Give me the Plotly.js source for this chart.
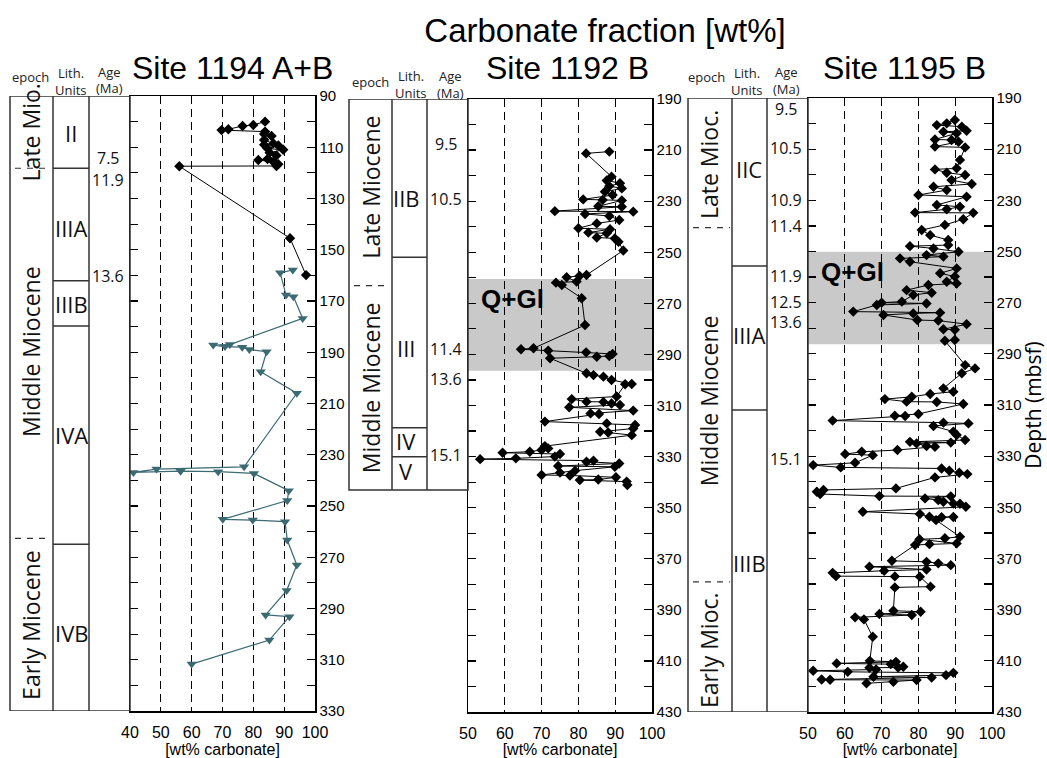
<!DOCTYPE html>
<html><head><meta charset="utf-8">
<script src="https://cdn.plot.ly/plotly-3.0.1.min.js"></script>
<style>html,body{margin:0;padding:0;background:#fff}#chart{width:1047px;height:758px}</style>
</head><body><div id="chart"></div>
<script>
// ---------------- DATA ----------------
// Site 1194 A+B, upper (black diamonds)
const dep1194a = [100.0,101.3,101.7,103.0,103.3,103.9,104.8,105.6,107.2,108.5,109.0,109.3,110.5,111.0,112.1,113.2,114.6,115.0,115.7,116.6,117.3,117.4,145.5,159.9];
const val1194a = [83.8,80.0,76.5,71.9,69.7,83.8,83.5,85.9,83.5,86.5,83.5,88.1,84.6,89.7,85.3,87.5,84.6,81.6,86.5,88.1,87.5,56.0,91.9,97.1];
// Site 1194 A+B, lower (teal triangles)
const dep1194b = [157.9,159.0,167.7,168.3,176.8,187.0,187.2,187.8,188.0,188.9,189.8,197.6,206.0,234.7,235.6,236.9,236.4,236.6,237.3,244.0,247.9,255.2,255.5,256.1,263.3,273.0,283.0,292.5,293.2,302.3,311.7];
const val1194b = [92.8,88.7,90.6,93.0,96.0,72.4,67.0,70.8,76.4,78.7,84.3,82.4,94.1,77.0,48.6,41.1,56.4,68.6,80.2,91.5,91.0,70.1,79.8,90.3,91.0,94.1,90.8,84.0,91.7,85.2,60.0];
// Site 1192 B
const dep1192 = [210.6,211.3,220.4,221.9,223.0,224.1,225.0,226.3,227.6,229.3,
 229.5,229.7,232.0,232.2,233.9,234.1,235.0,235.8,237.4,238.7,
 240.6,241.0,242.3,242.6,244.2,244.6,245.9,249.3,258.9,259.3,
 259.8,261.5,261.9,262.8,268.0,278.5,287.6,288.0,288.5,289.2,
 289.8,290.6,290.9,291.5,297.4,298.1,298.7,300.0,301.6,301.7,
 306.5,307.5,308.5,308.6,309.2,309.8,310.7,312.0,313.1,313.3,
 316.3,317.0,317.6,319.0,320.3,320.6,321.6,325.9,326.8,327.4,
 328.1,328.5,329.0,330.0,330.7,331.0,331.6,332.0,332.7,333.7,
 334.0,335.5,336.3,337.2,337.4,338.1,339.0,339.2,339.8,341.1];
const val1192 = [88.4,82.1,89.0,87.7,91.3,88.4,91.8,87.2,89.3,81.3,
 86.6,91.8,85.4,91.8,73.6,94.9,81.8,88.4,91.1,85.0,
 80.0,88.6,82.7,87.7,85.0,89.9,90.9,92.2,82.2,80.3,
 76.8,79.5,73.9,75.5,80.9,81.8,67.8,64.4,71.8,82.1,
 89.3,88.4,85.0,72.3,82.2,84.1,86.8,89.0,94.5,92.7,
 90.4,78.2,82.2,86.8,89.0,91.3,77.5,94.9,83.3,85.6,
 70.9,87.7,95.4,94.9,85.9,88.1,94.5,70.9,71.8,70.0,
 66.8,59.4,75.0,73.6,63.0,53.3,84.1,82.2,91.1,74.5,
 89.9,79.1,75.0,70.0,77.7,90.2,85.4,80.4,93.1,93.3];
// Site 1195 B
const dep1195 = [198.6,199.9,200.6,201.2,202.8,203.2,203.8,206.2,206.4,207.1,
 209.0,209.3,214.2,217.5,217.9,219.2,220.1,222.1,223.6,224.7,
 226.0,227.9,228.6,231.8,232.5,233.5,234.8,234.9,237.4,239.6,
 241.6,243.6,245.5,247.5,247.9,248.8,250.1,251.4,252.0,252.7,
 254.0,256.6,258.5,259.8,261.8,262.5,263.1,265.1,266.1,267.0,
 269.6,270.0,270.3,270.9,273.5,273.9,274.2,274.8,276.8,277.0,
 278.4,280.4,280.6,284.6,284.9,294.4,295.7,297.6,303.5,304.8,
 305.7,306.8,307.7,308.7,308.8,309.6,313.5,314.2,314.3,316.1,
 316.9,317.2,318.2,320.4,321.7,323.7,324.4,324.7,325.0,326.0,
 326.3,327.6,328.3,329.2,329.6,332.6,333.5,334.4,334.8,335.7,
 336.5,337.0,338.3,342.6,343.2,343.9,344.8,345.6,345.7,346.5,
 347.2,347.8,348.5,348.6,349.8,351.7,352.6,353.7,353.8,353.9,
 355.0,361.5,362.1,362.5,364.1,364.4,364.7,370.9,371.3,371.9,
 372.6,373.2,374.3,374.8,375.6,376.9,377.0,377.1,381.0,381.3,
 390.4,390.8,391.7,392.1,393.0,393.8,400.6,410.0,410.4,411.0,
 411.3,412.3,412.6,412.7,413.4,413.9,414.3,414.7,415.6,416.2,
 416.5,417.3,417.4,417.5,418.2,418.8];
const val1195 = [89.9,87.7,85.0,91.8,93.1,86.8,90.4,84.5,89.0,90.9,
 84.5,92.7,91.3,90.4,84.5,87.7,92.7,89.0,94.5,84.1,
 87.7,80.0,93.1,85.0,91.3,87.7,79.1,94.9,92.2,87.2,
 80.9,83.2,88.1,88.1,77.7,84.1,90.9,82.2,86.8,75.0,
 77.7,90.4,85.9,89.9,87.7,90.4,82.7,76.8,83.6,78.6,
 75.5,70.0,82.2,68.7,62.3,85.9,78.6,70.5,79.7,85.4,
 93.1,86.8,89.9,89.9,87.2,92.7,95.4,91.8,86.8,89.5,
 83.2,78.2,70.9,76.8,85.0,92.2,80.0,73.6,76.4,56.7,
 86.8,93.6,84.1,89.5,90.4,92.7,77.7,88.8,79.5,82.2,
 84.5,74.3,64.6,60.1,67.6,62.8,51.4,58.9,86.3,88.4,
 91.1,93.3,84.5,73.9,54.2,52.4,53.3,69.4,88.8,81.8,
 85.4,86.8,89.5,91.3,92.9,64.9,80.4,83.0,89.5,86.3,
 84.8,91.3,87.2,80.3,90.4,83.0,79.1,72.8,82.2,85.4,
 88.8,66.7,82.2,70.7,56.7,57.6,73.6,80.4,83.3,73.6,
 73.2,80.6,69.4,78.2,62.8,65.2,67.6,66.8,73.9,57.8,
 72.5,75.9,74.5,66.7,68.5,51.4,60.8,89.5,87.5,67.8,
 83.6,53.7,56.0,79.5,73.2,65.9];

// Tick values / labels
const xTicks1194 = [40,50,60,70,80,90,100];
const xTicks119x = [50,60,70,80,90,100];
const yTicks1194 = [90,100,110,120,130,140,150,160,170,180,190,200,210,220,230,240,250,260,270,280,290,300,310,320,330];
const yTicks119x = [190,200,210,220,230,240,250,260,270,280,290,300,310,320,330,340,350,360,370,380,390,400,410,420,430];
const yLabels1194 = ['90','','110','','130','','150','','170','','190','','210','','230','','250','','270','','290','','310','','330'];
const yLabels119x = ['190','','210','','230','','250','','270','','290','','310','','330','','350','','370','','390','','410','','430'];

// Q+Gl intervals (depth, mbsf)
const qgl1192 = [260.5, 296.4];
const qgl1195 = [250.1, 286.3];

// Stratigraphy columns
const epoch1194 = ['Late Mio.','Middle Miocene','Early Miocene'];
const epochDep1194 = [104.2, 189.9, 296.4];
const epochBnd1194 = [118.2, 262.6];
const lith1194 = ['II','IIIA','IIIB','IVA','IVB'];
const lithDep1194 = [104.4, 141.5, 171.0, 222.3, 299.6];
const lithBnd1194 = [118.2, 162.1, 179.8, 264.9];
const age1194 = ['7.5','11.9','13.6'];
const ageDep1194 = [118.8, 118.2, 160.2];
const ageAnchor1194 = ['bottom','top','middle'];

const epoch1192 = ['Late Miocene','Middle Miocene'];
const epochDep1192 = [224.7, 303.2];
const epochBnd1192 = [263.1];
const lith1192 = ['IIB','III','IV','V'];
const lithDep1192 = [228.6, 287.3, 323.8, 335.8];
const lithBnd1192 = [252.0, 318.7, 330.1];
const age1192 = ['9.5','10.5','11.4','13.6','15.1'];
const ageDep1192 = [207.6, 229.2, 287.9, 299.8, 329.4];

const epoch1195 = ['Late Mioc.','Middle Miocene','Early Mioc.'];
const epochDep1195 = [216.2, 308.5, 405.8];
const epochBnd1195 = [240.7, 379.1];
const lith1195 = ['IIC','IIIA','IIIB'];
const lithDep1195 = [217.8, 282.6, 371.9];
const lithBnd1195 = [255.7, 312.0];
const age1195 = ['9.5','10.5','10.9','11.4','11.9','12.5','13.6','15.1'];
const ageDep1195 = [194.3, 209.7, 229.9, 240.0, 259.6, 269.7, 277.6, 331.1];

// ---------------- LAYOUT HELPERS ----------------
const W = 1047, H = 758;
const fx = p => p / W;
const fy = p => 1 - p / H;
const SANS = 'Liberation Sans, Arial, sans-serif';
const HUM = 'Open Sans, Noto Sans, sans-serif';

const traces = [
  {x: val1194a, y: dep1194a, xaxis: 'x', yaxis: 'y', mode: 'lines+markers', type: 'scatter',
   line: {color: '#000', width: 1}, marker: {symbol: 'diamond', size: 8, color: '#000'}, hoverinfo: 'x+y'},
  {x: val1194b, y: dep1194b, xaxis: 'x', yaxis: 'y', mode: 'lines+markers', type: 'scatter',
   line: {color: '#3c6a72', width: 1.2}, marker: {symbol: 'triangle-down', size: 9, color: '#3c6a72'}, hoverinfo: 'x+y'},
  {x: val1192, y: dep1192, xaxis: 'x2', yaxis: 'y2', mode: 'lines+markers', type: 'scatter',
   line: {color: '#000', width: 1}, marker: {symbol: 'diamond', size: 8, color: '#000'}, hoverinfo: 'x+y'},
  {x: val1195, y: dep1195, xaxis: 'x3', yaxis: 'y3', mode: 'lines+markers', type: 'scatter',
   line: {color: '#000', width: 1}, marker: {symbol: 'diamond', size: 8, color: '#000'}, hoverinfo: 'x+y'}
];

function xAx(dom, range, tv, anchor) {
  return {domain: dom, range: range, anchor: anchor, tickvals: tv, ticks: '', showline: true, mirror: true,
    linecolor: '#000', linewidth: 1.5, showgrid: true, gridcolor: '#000', gridwidth: 1, griddash: '8px,5px',
    zeroline: false, tickfont: {family: SANS, size: 16, color: '#000'}, ticklabelstandoff: 6, fixedrange: true,
    title: {text: '[wt% carbonate]', font: {family: SANS, size: 16, color: '#000'}, standoff: 2}};
}
function yAx(dom, range, tv, tt, anchor) {
  return {domain: dom, range: range, anchor: anchor, side: 'right', tickvals: tv, ticktext: tt, ticks: 'inside',
    ticklen: 8, tickwidth: 1.2, tickcolor: '#000', showline: true, mirror: 'allticks', linecolor: '#000', linewidth: 1.5,
    showgrid: false, zeroline: false, tickfont: {family: SANS, size: 15, color: '#000'}, fixedrange: true};
}

const layout = {
  width: W, height: H, margin: {l: 0, r: 0, t: 0, b: 0}, showlegend: false,
  paper_bgcolor: '#fff', plot_bgcolor: 'rgba(0,0,0,0)', font: {family: SANS, color: '#000'},
  title: {text: 'Carbonate fraction [wt%]', x: fx(605), xanchor: 'center', y: fy(30), yanchor: 'middle',
          font: {family: SANS, size: 33, color: '#000'}},
  xaxis: xAx([fx(130), fx(315)], [40, 100], xTicks1194, 'y'),
  yaxis: yAx([fy(711), fy(96)], [330, 90], yTicks1194, yLabels1194, 'x'),
  xaxis2: xAx([fx(468), fx(652)], [50, 100], xTicks119x, 'y2'),
  yaxis2: yAx([fy(712), fy(99)], [430, 190], yTicks119x, yLabels119x, 'x2'),
  xaxis3: xAx([fx(808), fx(992)], [50, 100], xTicks119x, 'y3'),
  yaxis3: Object.assign(yAx([fy(712), fy(98)], [430, 190], yTicks119x, yLabels119x, 'x3'),
     {title: {text: 'Depth (mbsf)', font: {family: HUM, size: 21, color: '#000'}, standoff: 6}}),
  shapes: [], annotations: []
};

// Q+Gl shading
layout.shapes.push({type: 'rect', xref: 'x2', yref: 'y2', x0: 50, x1: 100, y0: qgl1192[0], y1: qgl1192[1],
  fillcolor: '#c9c9c9', line: {width: 0}, layer: 'below'});
layout.shapes.push({type: 'rect', xref: 'x3', yref: 'y3', x0: 50, x1: 100, y0: qgl1195[0], y1: qgl1195[1],
  fillcolor: '#c9c9c9', line: {width: 0}, layer: 'below'});
layout.annotations.push({xref: 'x2', yref: 'y2', x: 62.1, y: 268.3, text: '<b>Q+Gl</b>', showarrow: false,
  xanchor: 'center', font: {family: SANS, size: 26, color: '#000'}});
layout.annotations.push({xref: 'x3', yref: 'y3', x: 62.2, y: 257.9, text: '<b>Q+Gl</b>', showarrow: false,
  xanchor: 'center', font: {family: SANS, size: 26, color: '#000'}});

// Site titles
[['Site 1194 A+B', 232], ['Site 1192 B', 567], ['Site 1195 B', 904]].forEach(([t, x]) => {
  layout.annotations.push({xref: 'paper', yref: 'paper', x: fx(x), y: fy(68), text: t, showarrow: false,
    xanchor: 'center', yanchor: 'middle', borderpad: 0, font: {family: SANS, size: 32, color: '#000'}});
});

// Stratigraphic columns
const LC = '#333';
function column(cfg) {
  const [xl, c1, c2, xr] = cfg.cols;
  const yr = cfg.yref;
  layout.shapes.push({type: 'rect', xref: 'paper', yref: yr, x0: fx(xl), x1: fx(xr), y0: cfg.top, y1: cfg.bot,
    line: {color: LC, width: 1.5}, fillcolor: 'rgba(0,0,0,0)'});
  [c1, c2].forEach(c => layout.shapes.push({type: 'line', xref: 'paper', yref: yr, x0: fx(c), x1: fx(c),
    y0: cfg.top, y1: cfg.bot, line: {color: LC, width: 1.5}}));
  cfg.lithBnd.forEach(d => layout.shapes.push({type: 'line', xref: 'paper', yref: yr, x0: fx(c1), x1: fx(c2),
    y0: d, y1: d, line: {color: LC, width: 1.5}}));
  cfg.epochBnd.forEach(d => layout.shapes.push({type: 'line', xref: 'paper', yref: yr, x0: fx(xl + 5), x1: fx(c1 - 2),
    y0: d, y1: d, line: {color: LC, width: 1.2, dash: '6px,6px'}}));
  cfg.epoch.forEach((t, i) => layout.annotations.push({xref: 'paper', yref: yr, x: fx(cfg.epochX), y: cfg.epochDep[i],
    text: t, textangle: -90, showarrow: false, xanchor: 'center', yanchor: 'middle',
    font: {family: HUM, size: 23, color: '#111'}}));
  cfg.lith.forEach((t, i) => layout.annotations.push({xref: 'paper', yref: yr, x: fx(cfg.lithX), y: cfg.lithDep[i],
    text: t, showarrow: false, xanchor: 'center', yanchor: 'middle', font: {family: HUM, size: 22, color: '#111'}}));
  cfg.age.forEach((t, i) => layout.annotations.push({xref: 'paper', yref: yr, x: fx(cfg.ageX), y: cfg.ageDep[i],
    text: t, showarrow: false, xanchor: 'center', yanchor: cfg.ageAnchor ? cfg.ageAnchor[i] : 'middle',
    borderpad: 0, font: {family: HUM, size: 16, color: '#111'}}));
  const hf = {family: HUM, size: 13, color: '#222'};
  const h = cfg.head;
  [['epoch', h[0], h[1]], ['Lith.', h[2], h[3]], ['Units', h[2], h[3] + 16.5], ['Age', h[4], h[5]], ['(Ma)', h[4], h[5] + 16.5]]
    .forEach(([t, x, y]) => layout.annotations.push({xref: 'paper', yref: 'paper', x: fx(x), y: fy(y), text: t,
      showarrow: false, xanchor: 'center', yanchor: 'middle', font: hf}));
}
column({cols: [10, 53, 89, 130], yref: 'y', top: 90, bot: 330, epoch: epoch1194, epochDep: epochDep1194, epochX: 31,
  epochBnd: epochBnd1194, lith: lith1194, lithDep: lithDep1194, lithX: 71, lithBnd: lithBnd1194,
  age: age1194, ageDep: ageDep1194, ageAnchor: ageAnchor1194, ageX: 108, head: [30, 77, 71, 73, 109, 72]});
column({cols: [349, 392, 427, 468], yref: 'y2', top: 190, bot: 343.1, epoch: epoch1192, epochDep: epochDep1192, epochX: 371,
  epochBnd: epochBnd1192, lith: lith1192, lithDep: lithDep1192, lithX: 406, lithBnd: lithBnd1192,
  age: age1192, ageDep: ageDep1192, ageX: 446, head: [370, 82, 411, 76, 450, 76]});
column({cols: [688, 732, 767, 808], yref: 'y3', top: 190, bot: 430, epoch: epoch1195, epochDep: epochDep1195, epochX: 709,
  epochBnd: epochBnd1195, lith: lith1195, lithDep: lithDep1195, lithX: 749, lithBnd: lithBnd1195,
  age: age1195, ageDep: ageDep1195, ageX: 786, head: [706, 77, 747, 73, 786, 72.5]});

Plotly.newPlot('chart', traces, layout, {displayModeBar: false, staticPlot: true});
</script>
</body></html>
